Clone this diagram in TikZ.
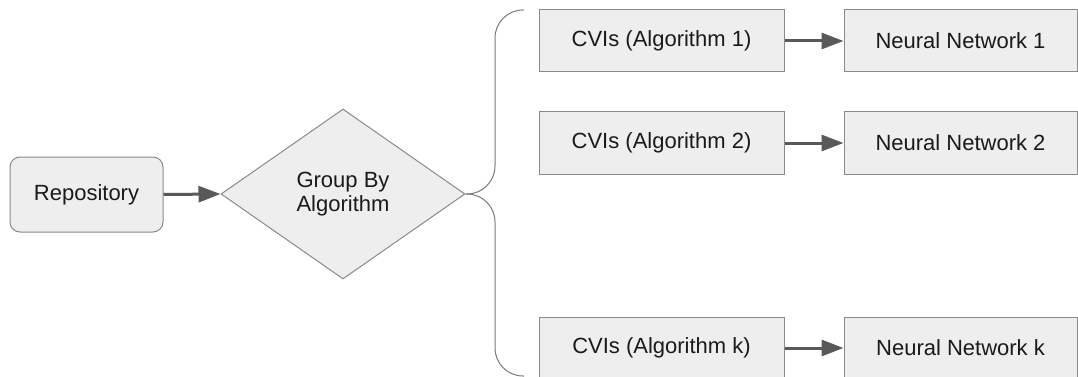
\documentclass[tikz,border=0pt]{standalone}
\usepackage{fontspec}
\setmainfont{Liberation Sans}
\usetikzlibrary{shapes.geometric,arrows.meta}
\definecolor{boxfill}{HTML}{EEEEEE}
\definecolor{boxline}{HTML}{8A8A8A}
\definecolor{arrowgray}{HTML}{595959}
\definecolor{bracegray}{HTML}{7A7A7A}
\definecolor{txt}{HTML}{1A1A1A}
\begin{document}
\begin{tikzpicture}[x=1pt,y=-1pt,
  every node/.style={font=\fontsize{22}{24}\selectfont, text=txt},
  procbox/.style={draw=boxline, fill=boxfill, line width=1pt, inner sep=0pt},
  decision/.style={diamond, draw=boxline, fill=boxfill, line width=1pt, inner sep=0pt,
    minimum width=244pt, minimum height=170pt, align=center},
  flow/.style={draw=arrowgray, line width=3pt, -{Triangle[length=22pt,width=16pt]}, shorten >=0pt},
  bracket/.style={draw=bracegray, line width=1pt, rounded corners=28pt}]
\useasboundingbox (0,0) rectangle (1078,377);
\clip (0,0) rectangle (1078,377);

% source and grouping step
\node[procbox, rounded corners=10pt, minimum width=153pt, minimum height=75pt] (repo) at (86.5,194.5) {Repository};
\node[decision] (group) at (343,194) {Group By\\Algorithm};

% one row per algorithm
\node[procbox, minimum width=245pt, minimum height=62pt] (cvi1) at (661.5,41) {CVIs (Algorithm 1)};
\node[procbox, minimum width=245pt, minimum height=62pt] (cvi2) at (661.5,143) {CVIs (Algorithm 2)};
\node[procbox, minimum width=245pt, minimum height=62pt] (cvik) at (661.5,348) {CVIs (Algorithm k)};

\node[procbox, minimum width=233pt, minimum height=62pt] (nn1) at (960.5,41) {Neural Network 1};
\node[procbox, minimum width=233pt, minimum height=62pt] (nn2) at (960.5,143) {Neural Network 2};
\node[procbox, minimum width=233pt, minimum height=62pt] (nnk) at (960.5,348) {Neural Network k};

% connectors
\draw[flow] (repo.east) -- (group.west);
\draw[flow] (cvi1.east) -- (nn1.west);
\draw[flow] (cvi2.east) -- (nn2.west);
\draw[flow] (cvik.east) -- (nnk.west);

% bracket fanning out from the decision
\coordinate (btop) at (524,10);
\coordinate (bbot) at (524,376);
\draw[bracket] (group.east) -- (495,194) -- (495,10) -- (btop);
\draw[bracket] (group.east) -- (495,194) -- (495,376) -- (bbot);
\end{tikzpicture}
\end{document}
